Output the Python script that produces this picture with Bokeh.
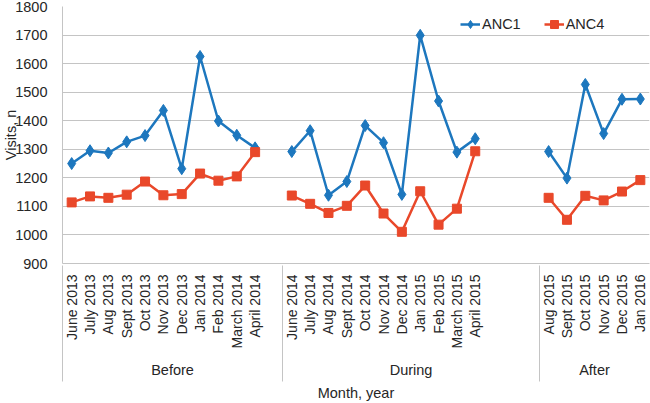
import math
from bokeh.plotting import figure
from bokeh.models import (FactorRange, Range1d, LinearAxis, FixedTicker, Legend, LegendItem,
                          ColumnDataSource)
from bokeh.embed import file_html
from bokeh.resources import INLINE

groups = ["Before", "During", "After"]
months_before = ["June 2013", "July 2013", "Aug 2013", "Sept 2013", "Oct 2013", "Nov 2013",
                 "Dec 2013", "Jan 2014", "Feb 2014", "March 2014", "April 2014"]
anc1_before = [1250, 1295, 1287, 1326, 1348, 1436, 1232, 1625, 1399, 1349, 1305]
anc4_before = [1114, 1135, 1130, 1141, 1187, 1139, 1143, 1215, 1190, 1205, 1290]
months_during = ["June 2014", "July 2014", "Aug 2014", "Sept 2014", "Oct 2014", "Nov 2014",
                 "Dec 2014", "Jan 2015", "Feb 2015", "March 2015", "April 2015"]
anc1_during = [1292, 1365, 1139, 1187, 1383, 1323, 1142, 1699, 1469, 1290, 1337]
anc4_during = [1138, 1109, 1077, 1102, 1173, 1075, 1011, 1153, 1036, 1092, 1293]
months_after = ["Aug 2015", "Sept 2015", "Oct 2015", "Nov 2015", "Dec 2015", "Jan 2016"]
anc1_after = [1292, 1199, 1527, 1355, 1475, 1476]
anc4_after = [1130, 1053, 1137, 1121, 1152, 1192]
blank_slots = [1, 3, 0]  # empty months left at the end of each period
y_ticks = [900, 1000, 1100, 1200, 1300, 1400, 1500, 1600, 1700, 1800]

FONT = "Liberation Sans"
TXT = "#262626"
BLUE = "#1d77be"
RED = "#e9482a"
GRID = "#c4c4c4"
FS = "14.5px"

factors, a1, a4 = [], [], []
for g, ms, v1, v4, nb in zip(groups, [months_before, months_during, months_after],
                             [anc1_before, anc1_during, anc1_after],
                             [anc4_before, anc4_during, anc4_after], blank_slots):
    for m, p1, p4 in zip(ms, v1, v4):
        factors.append((g, m)); a1.append(p1); a4.append(p4)
    for k in range(nb):
        factors.append((g, " " * (k + 1))); a1.append(float("nan")); a4.append(float("nan"))

# boundaries between periods (synthetic categorical coordinates)
bounds = [0]
acc = 0
for ms, nb in zip([months_before, months_during], blank_slots):
    acc += len(ms) + nb
    bounds.append(acc)

src = ColumnDataSource(dict(x=factors, a1=a1, a4=a4))

xr = FactorRange(*factors, factor_padding=0, group_padding=0, range_padding=0)
p = figure(width=650, height=403, x_range=xr, y_range=Range1d(900, 1800),
           output_backend="svg", toolbar_location=None,
           min_border_left=60, min_border_right=1, min_border_top=6)
p.outline_line_color = None
p.background_fill_color = "white"
p.xgrid.grid_line_color = None
p.ygrid.grid_line_color = GRID
p.ygrid.grid_line_width = 1
p.yaxis.ticker = FixedTicker(ticks=y_ticks)

ya = p.yaxis[0]
ya.axis_line_color = GRID
ya.major_tick_line_color = None
ya.minor_tick_line_color = None
ya.major_label_standoff = 9
ya.major_label_text_font = FONT
ya.major_label_text_font_size = FS
ya.major_label_text_color = TXT
ya.axis_label = "Visits, n"
ya.axis_label_standoff = -7
ya.axis_label_text_font = FONT
ya.axis_label_text_font_size = FS
ya.axis_label_text_font_style = "normal"
ya.axis_label_text_color = TXT

xa = p.xaxis[0]
xa.axis_line_color = GRID
xa.major_tick_line_color = None
xa.major_tick_out = 0
xa.major_label_orientation = math.pi / 2
xa.major_label_standoff = 11
xa.major_label_text_font = FONT
xa.major_label_text_font_size = "14px"
xa.major_label_text_color = TXT
xa.group_text_font = FONT
xa.group_text_font_size = FS
xa.group_text_font_style = "normal"
xa.group_text_color = TXT
xa.separator_line_color = None

sep = LinearAxis(ticker=FixedTicker(ticks=bounds))
sep.axis_line_color = None
sep.major_tick_in = 116
sep.major_tick_out = 0
sep.major_tick_line_color = GRID
sep.major_tick_line_width = 1
sep.minor_tick_line_color = None
sep.major_label_text_color = None
sep.major_label_text_font_size = "1px"
sep.major_label_standoff = 0
sep.axis_label = "Month, year"
sep.axis_label_standoff = 3
sep.axis_label_text_font = FONT
sep.axis_label_text_font_size = FS
sep.axis_label_text_font_style = "normal"
sep.axis_label_text_color = TXT
p.add_layout(sep, "below")

l1 = p.line("x", "a1", source=src, line_color=BLUE, line_width=2.5)
m1 = p.scatter("x", "a1", source=src, marker="diamond", size=12, fill_color=BLUE, line_color=BLUE)
l4 = p.line("x", "a4", source=src, line_color=RED, line_width=2.5)
m4 = p.scatter("x", "a4", source=src, marker="square", size=9, fill_color=RED, line_color=RED)

legend = Legend(items=[LegendItem(label="ANC1", renderers=[l1, m1]),
                       LegendItem(label="ANC4", renderers=[l4, m4])],
                orientation="horizontal", location=(398, 229), padding=0, margin=0,
                spacing=23, glyph_width=20, label_standoff=2,
                border_line_color=None, background_fill_alpha=0,
                label_text_font=FONT, label_text_font_size=FS, label_text_color=TXT)
p.add_layout(legend)

open("out.html", "w").write(file_html(p, INLINE))
